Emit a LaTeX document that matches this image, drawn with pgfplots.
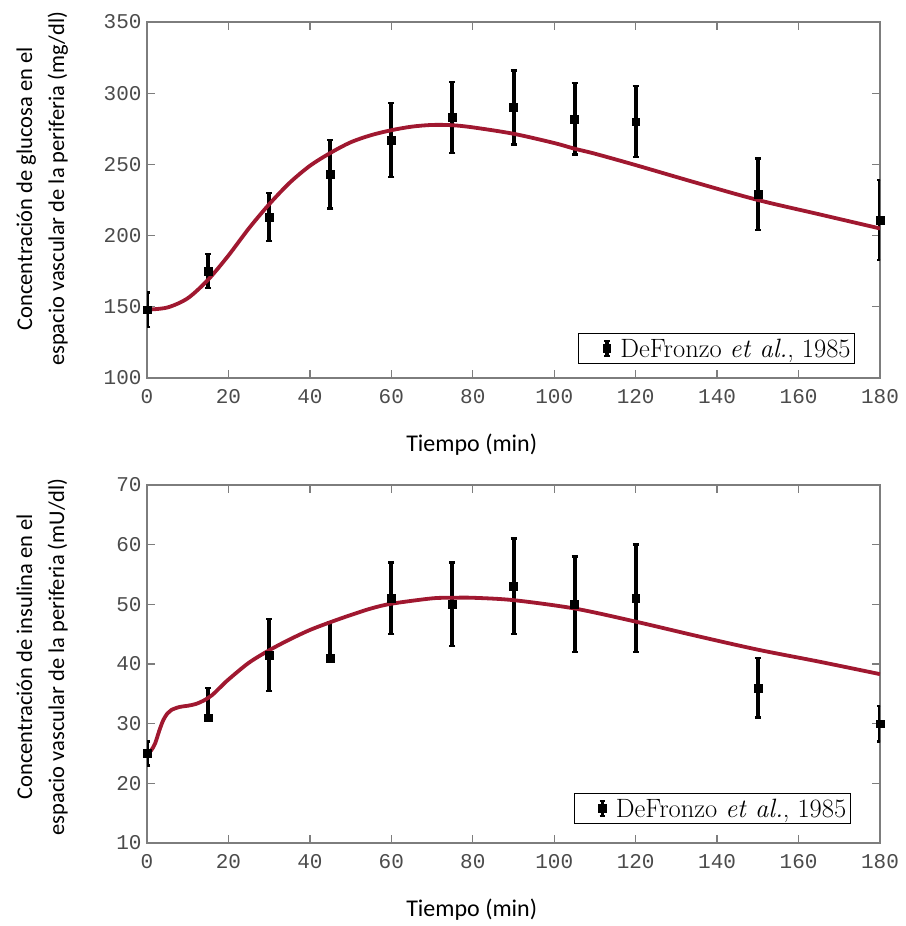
\documentclass[border=0pt]{standalone}
\usepackage{fontspec}
\usepackage{pgfplots}
\usepackage{pgfplotstable}
\pgfplotsset{compat=1.18}
\newfontfamily\calibri{Carlito}
\setmonofont{Liberation Mono}
\definecolor{curvered}{RGB}{160,24,48}
\definecolor{axgray}{RGB}{125,125,125}
\definecolor{ticktext}{RGB}{75,75,75}

\pgfplotstableread{
t v e
0 148 12
15 175 12
30 213 17
45 243 24
60 267 26
75 283 25
90 290 26
105 282 25
120 280 25
150 229 25
180 211 28
}\gludata

\pgfplotstableread{
t v
0 148
5 149.5
10 156
15 169
20 186
25 205
30 222
35 237
40 249
45 258
50 265.5
55 270.5
60 274
65 276.5
70 277.7
75 277.5
80 276
90 271.5
100 265
105 261
110 257.5
120 249.5
135 237
150 225
165 215
180 205
}\glucurve

\pgfplotstableread{
t v ep em
0 25 2 2
15 31 5 0
30 41.5 6 6
45 41 6 0
60 51 6 6
75 50 7 7
90 53 8 8
105 50 8 8
120 51 9 9
150 36 5 5
180 30 3 3
}\insdata

\pgfplotstableread{
t v
0 25
1 25.5
2 26.7
3 28.8
4 30.6
5 31.7
6 32.3
8 32.8
10 33
12 33.3
14 33.9
16 34.8
18 36.1
20 37.4
25 40.2
30 42.3
35 44.1
40 45.7
45 47.0
50 48.2
55 49.3
60 50.1
70 51.0
75 51.1
80 51.1
90 50.7
105 49.3
120 47.1
135 44.7
150 42.4
165 40.4
180 38.3
}\inscurve

\pgfplotsset{
  myaxis/.style={
    scale only axis,
    width=733pt,
    xmin=0, xmax=180,
    xtick={0,20,...,180},
    tick align=inside,
    major tick length=8pt,
    axis line style={draw=axgray, line width=1.3pt},
    every tick/.style={draw=axgray, line width=1.3pt},
    tick label style={font=\fontsize{21}{21}\selectfont\ttfamily, text=ticktext},
    xticklabel style={yshift=-8pt},
    yticklabel style={xshift=-2pt},
    /pgf/number format/assume math mode=true,
    /pgf/number format/1000 sep={},
    xlabel={Tiempo (min)},
    xlabel style={font=\fontsize{24}{30}\selectfont\calibri, at={(axis description cs:0.443,0)}, anchor=center, yshift=-67pt},
    legend style={draw=black, line width=0.9pt, font=\fontsize{26.5}{30}\selectfont, inner xsep=2pt, inner ysep=3pt, legend cell align=left},
    legend image code/.code={
      \path (-26pt,0pt) (11pt,0pt);
      \draw[line width=3.5pt] (0pt,-7.5pt) -- (0pt,7.5pt);
      \draw[line width=2.2pt] (-2.8pt,-7.5pt) -- (2.8pt,-7.5pt);
      \draw[line width=2.2pt] (-2.8pt,7.5pt) -- (2.8pt,7.5pt);
      \fill (-3.8pt,-3.8pt) rectangle (3.8pt,3.8pt);
    },
  },
  databars/.style={
    only marks, mark=square*, mark size=3.9pt, color=black,
    mark options={fill=black, draw=black},
    error bars/.cd, y dir=both, y explicit,
    error bar style={line width=4pt, black},
    error mark options={rotate=90, mark size=3pt, line width=2.4pt, black},
  },
}

\begin{document}
\begin{tikzpicture}
\useasboundingbox (0pt,0pt) rectangle (905pt,926pt);
% top axis
\begin{axis}[myaxis,
  at={(147pt,548pt)}, anchor=south west,
  height=356pt,
  ymin=100, ymax=350, ytick={100,150,...,350},
  ylabel={Concentración de glucosa en el\\espacio vascular de la periferia (mg/dl)},
  ylabel style={font=\fontsize{22.5}{32}\selectfont\calibri, align=center, at={(axis description cs:-0.143,0.531)}, anchor=center, rotate=0},
  legend style={at={(axis description cs:0.966,0.039)}, anchor=south east},
]
\addplot[databars] table[x=t, y=v, y error=e] {\gludata};
\addlegendentry{DeFronzo \textit{et al.}, 1985}
\addplot[forget plot, no marks, smooth, color=curvered, line width=3.8pt] table[x=t, y=v] {\glucurve};
\end{axis}
% bottom axis
\begin{axis}[myaxis,
  at={(147pt,83pt)}, anchor=south west,
  height=358pt,
  ymin=10, ymax=70, ytick={10,20,...,70},
  ylabel={Concentración de insulina en el\\espacio vascular de la periferia (mU/dl)},
  ylabel style={font=\fontsize{22.5}{32}\selectfont\calibri, align=center, at={(axis description cs:-0.143,0.52)}, anchor=center, rotate=0},
  legend style={at={(axis description cs:0.960,0.053)}, anchor=south east},
]
\addplot[databars] table[x=t, y=v, y error plus=ep, y error minus=em] {\insdata};
\addlegendentry{DeFronzo \textit{et al.}, 1985}
\addplot[forget plot, no marks, smooth, color=curvered, line width=3.8pt] table[x=t, y=v] {\inscurve};
\end{axis}
\end{tikzpicture}
\end{document}
